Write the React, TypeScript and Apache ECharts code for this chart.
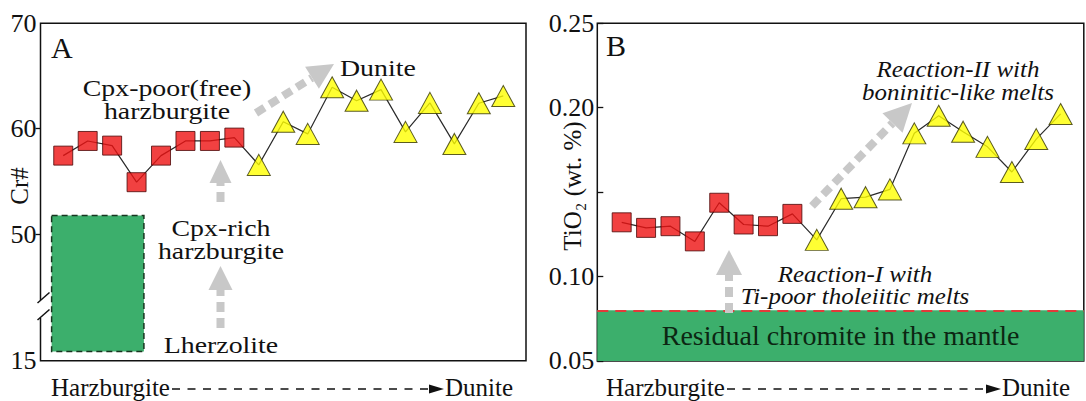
import React, { useEffect, useRef } from "react";
import * as echarts from "echarts";

const FONT = "Liberation Serif";

// ---- Panel A: Cr# (samples numbered 1..19 along the Harzburgite -> Dunite trend) ----
const crSquares = [57.45, 58.84, 58.4, 54.93, 57.45, 58.84, 58.84, 59.16];
const crTriangles = [56.57, 60.67, 59.51, 63.93, 62.66, 63.71, 59.7, 62.45, 58.56, 62.42, 63.11];
const crTickValues = [38, 50, 60, 70];
const crTickLabels = ["15", "50", "60", "70"];
const crMinorTicks = [50, 60];
const lherzoliteBoxX = [0.525, 4.3];
const lherzoliteBoxY = [38.87, 51.78];

// ---- Panel B: TiO2 ----
const tiSquares = [0.1321, 0.1288, 0.1298, 0.1208, 0.1437, 0.1308, 0.1298, 0.1371];
const tiTriangles = [0.1217, 0.1461, 0.147, 0.1516, 0.1848, 0.1952, 0.1858, 0.1768, 0.1619, 0.1814, 0.1963];
const tiLabelValues = [0.05, 0.1, 0.2, 0.25];
const residualTiRange = [0.05, 0.08];

const GRAY = "#c8c8c8";
const INK = "#111";

function pairs(values: number[], offset: number) {
  return values.map((v, i) => [i + 1 + offset, v]);
}

function arrow(x1: number, y1: number, x2: number, y2: number, headLen: number, hw: number) {
  const dx = x2 - x1;
  const dy = y2 - y1;
  const L = Math.hypot(dx, dy);
  const ux = dx / L;
  const uy = dy / L;
  const nx = x2 - ux * headLen;
  const ny = y2 - uy * headLen;
  const px = -uy;
  const py = ux;
  return [
    {
      type: "line",
      z: 100,
      silent: true,
      shape: { x1, y1, x2: nx, y2: ny },
      style: { stroke: GRAY, lineWidth: 8, lineDash: [10, 6] },
    },
    {
      type: "polygon",
      z: 100,
      silent: true,
      shape: {
        points: [
          [x2, y2],
          [nx + px * hw, ny + py * hw],
          [nx - px * hw, ny - py * hw],
        ],
      },
      style: { fill: GRAY },
    },
  ];
}

function txt(
  text: string,
  x: number,
  y: number,
  size: number,
  opts: { align?: string; italic?: boolean; lineHeight?: number; scaleX?: number; rotation?: number } = {}
) {
  const align = opts.align || "center";
  return {
    type: "text",
    z: 100,
    silent: true,
    x,
    y,
    scaleX: opts.scaleX || 1,
    rotation: opts.rotation || 0,
    style: {
      text,
      fill: INK,
      fontSize: size,
      fontFamily: FONT,
      fontStyle: opts.italic ? "italic" : "normal",
      lineHeight: opts.lineHeight || size,
      align,
      verticalAlign: "middle",
      textAlign: align,
      textVerticalAlign: "middle",
    },
  };
}

function caption(x0: number, dashStart: number, dashEnd: number, y: number) {
  return [
    txt("Harzburgite", x0, y - 2, 25, { align: "left" }),
    {
      type: "line",
      z: 100,
      silent: true,
      shape: { x1: dashStart, y1: y, x2: dashEnd, y2: y },
      style: { stroke: INK, lineWidth: 1.6, lineDash: [8, 7.5] },
    },
    {
      type: "polygon",
      z: 100,
      silent: true,
      shape: {
        points: [
          [dashEnd + 16, y],
          [dashEnd + 1, y - 4.5],
          [dashEnd + 1, y + 4.5],
        ],
      },
      style: { fill: INK },
    },
    txt("Dunite", dashEnd + 17, y - 2, 25, { align: "left" }),
  ];
}

export default function App() {
  const ref = useRef<HTMLDivElement>(null);

  useEffect(() => {
    document.body.style.margin = "0";
    if (!ref.current) return;
    const chart = echarts.init(ref.current, null, { renderer: "svg" });

    const crAll = pairs(crSquares, 0).concat(pairs(crTriangles, crSquares.length));
    const tiAll = pairs(tiSquares, 0).concat(pairs(tiTriangles, tiSquares.length));

    const squareStyle = { color: "#ee1111", borderColor: "#4a0808", borderWidth: 1 };
    const triStyle = { color: "#ffff00", borderColor: "#333300", borderWidth: 1 };
    const SX = 1.16; // the original lettering is slightly wide

    const option: any = {
      animation: false,
      backgroundColor: "#fff",
      textStyle: { fontFamily: FONT },
      grid: [
        {
          left: 40.5,
          top: 23.3,
          width: 485.5,
          height: 337.4,
          show: true,
          borderColor: INK,
          borderWidth: 1.5,
          backgroundColor: "transparent",
        },
        {
          left: 597.3,
          top: 23.3,
          width: 486.5,
          height: 337.6,
          show: true,
          borderColor: INK,
          borderWidth: 1.5,
          backgroundColor: "transparent",
        },
      ],
      xAxis: [
        { gridIndex: 0, type: "value", min: 0.07, max: 19.93, show: false },
        { gridIndex: 1, type: "value", min: 0, max: 19.95, show: false },
      ],
      yAxis: [
        {
          gridIndex: 0,
          type: "value",
          position: "left",
          min: 38,
          max: 70,
          axisLine: { show: false, onZero: false },
          splitLine: { show: false },
          axisTick: {
            show: true,
            inside: false,
            length: 5,
            customValues: crMinorTicks,
            lineStyle: { color: INK, width: 1.3 },
          },
          axisLabel: {
            customValues: crTickValues,
            formatter: (v: number) => {
              const i = crTickValues.indexOf(v);
              return i >= 0 ? crTickLabels[i] : "";
            },
            fontSize: 26,
            fontFamily: FONT,
            color: INK,
            margin: 4,
          },
        },
        {
          gridIndex: 1,
          type: "value",
          position: "left",
          min: 0.05,
          max: 0.25,
          interval: 0.05,
          axisLine: { show: false, onZero: false },
          splitLine: { show: false },
          axisTick: {
            show: true,
            inside: true,
            length: 6,
            lineStyle: { color: INK, width: 1.3 },
          },
          axisLabel: {
            customValues: tiLabelValues,
            formatter: (v: number) => v.toFixed(2),
            fontSize: 26,
            fontFamily: FONT,
            color: INK,
            margin: 3,
          },
        },
      ],
      series: [
        // Panel A background annotation (Lherzolite field)
        {
          type: "line",
          xAxisIndex: 0,
          yAxisIndex: 0,
          data: [],
          z: 1,
          silent: true,
          markArea: {
            silent: true,
            itemStyle: {
              color: "#3caf6c",
              borderColor: "#17361f",
              borderWidth: 1.5,
              borderType: [6, 4],
            },
            data: [
              [
                { coord: [lherzoliteBoxX[0], lherzoliteBoxY[1]] },
                { coord: [lherzoliteBoxX[1], lherzoliteBoxY[0]] },
              ],
            ],
          },
        },
        {
          type: "line",
          xAxisIndex: 0,
          yAxisIndex: 0,
          data: crAll,
          symbol: "none",
          z: 2,
          lineStyle: { color: "#2a2a2a", width: 1.2 },
        },
        {
          type: "scatter",
          xAxisIndex: 0,
          yAxisIndex: 0,
          data: pairs(crSquares, 0),
          symbol: "rect",
          symbolSize: 19,
          z: 3,
          itemStyle: squareStyle,
        },
        {
          type: "scatter",
          xAxisIndex: 0,
          yAxisIndex: 0,
          data: pairs(crTriangles, crSquares.length),
          symbol: "triangle",
          symbolSize: [23, 21],
          z: 3,
          itemStyle: triStyle,
        },
        // Panel B residual chromite band
        {
          type: "line",
          xAxisIndex: 1,
          yAxisIndex: 1,
          data: [],
          z: 1,
          silent: true,
          markArea: {
            silent: true,
            itemStyle: { color: "#3caf6c" },
            label: {
              show: true,
              position: "inside",
              formatter: "Residual chromite in the mantle",
              fontSize: 28,
              fontFamily: FONT,
              color: "#0c2612",
            },
            data: [[{ yAxis: residualTiRange[0] }, { yAxis: residualTiRange[1] }]],
          },
        },
        {
          type: "line",
          xAxisIndex: 1,
          yAxisIndex: 1,
          data: [],
          z: 2,
          silent: true,
          markLine: {
            silent: true,
            symbol: ["none", "none"],
            label: { show: false },
            lineStyle: { color: "#e23a3a", type: [11, 7], width: 2 },
            data: [{ yAxis: residualTiRange[1] }],
          },
        },
        {
          type: "line",
          xAxisIndex: 1,
          yAxisIndex: 1,
          data: tiAll,
          symbol: "none",
          z: 2,
          lineStyle: { color: "#2a2a2a", width: 1.2 },
        },
        {
          type: "scatter",
          xAxisIndex: 1,
          yAxisIndex: 1,
          data: pairs(tiSquares, 0),
          symbol: "rect",
          symbolSize: 19,
          z: 3,
          itemStyle: squareStyle,
        },
        {
          type: "scatter",
          xAxisIndex: 1,
          yAxisIndex: 1,
          data: pairs(tiTriangles, tiSquares.length),
          symbol: "triangle",
          symbolSize: [23, 21],
          z: 3,
          itemStyle: triStyle,
        },
      ],
      graphic: [
        // axis break on panel A
        {
          type: "rect",
          z: 100,
          silent: true,
          shape: { x: 37, y: 300, width: 7, height: 18 },
          style: { fill: "#fff" },
        },
        {
          type: "line",
          z: 101,
          silent: true,
          shape: { x1: 37.5, y1: 303, x2: 49.5, y2: 292.5 },
          style: { stroke: INK, lineWidth: 1.5 },
        },
        {
          type: "line",
          z: 101,
          silent: true,
          shape: { x1: 37.5, y1: 320, x2: 49.5, y2: 309.5 },
          style: { stroke: INK, lineWidth: 1.5 },
        },
        // axis titles
        txt("Cr#", 19, 186, 25, { rotation: Math.PI / 2 }),
        txt("TiO₂ (wt. %)", 572, 186, 25, { rotation: Math.PI / 2 }),
        // panel letters
        txt("A", 51, 47, 30, { align: "left" }),
        txt("B", 606, 45, 30, { align: "left" }),
        // Panel A annotations
        txt("Dunite", 340, 68, 24, { align: "left", scaleX: SX }),
        txt("Cpx-poor(free)\nharzburgite", 167, 100, 24, { scaleX: SX, lineHeight: 23 }),
        txt("Cpx-rich\nharzburgite", 221, 240, 24, { scaleX: SX, lineHeight: 23 }),
        txt("Lherzolite", 221, 345, 24, { scaleX: SX }),
        ...arrow(220.5, 202, 220.5, 160, 23, 11),
        ...arrow(220.5, 328, 220.5, 266, 24, 12),
        ...arrow(256, 113, 334, 64, 26, 13),
        // Panel B annotations
        txt("Reaction-II with\nboninitic-like melts", 958, 80, 24, { italic: true, lineHeight: 23, scaleX: 1.04 }),
        txt("Reaction-I with\nTi-poor tholeiitic melts", 855, 285, 24, { italic: true, lineHeight: 22, scaleX: 1.04 }),
        ...arrow(729, 313, 729, 250, 25, 13),
        ...arrow(812, 206, 912, 103, 28, 14),
        // bottom captions
        ...caption(51, 172, 428, 389),
        ...caption(606, 727, 985, 389),
      ],
    };

    chart.setOption(option);
    return () => {
      chart.dispose();
    };
  }, []);

  return <div ref={ref} style={{ width: 1086, height: 401 }} />;
}
